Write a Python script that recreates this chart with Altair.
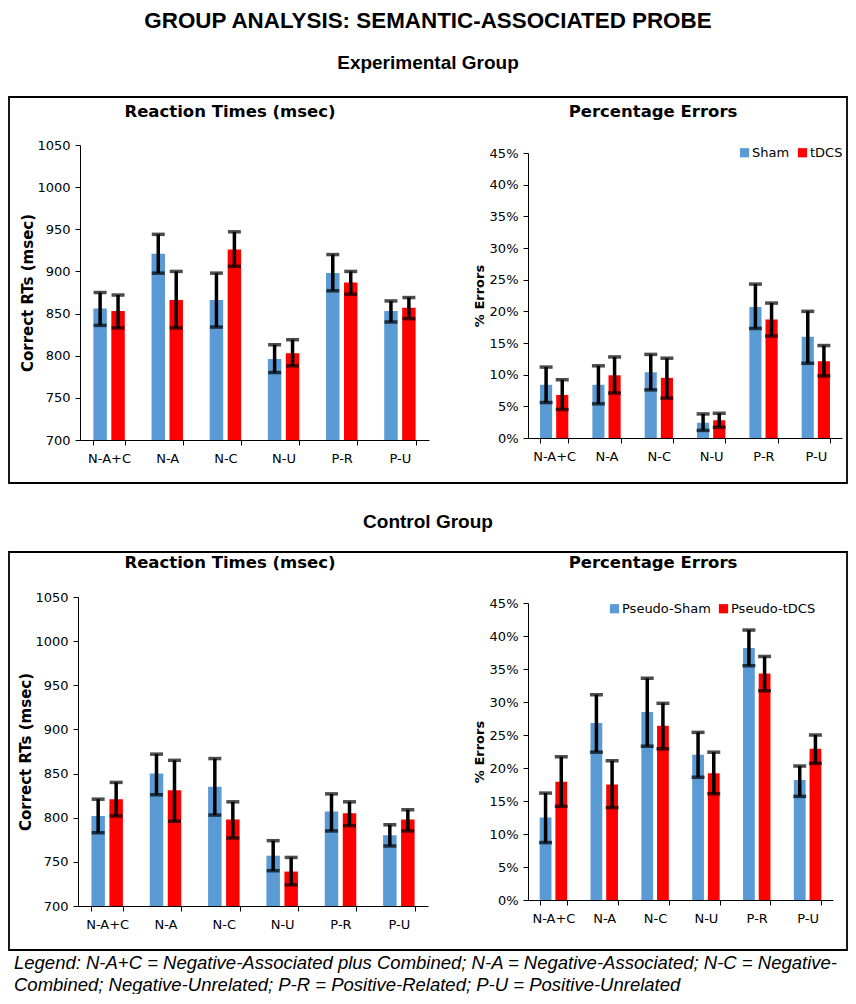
import altair as alt
import pandas as pd

categories = ["N-A+C", "N-A", "N-C", "N-U", "P-R", "P-U"]
exp_conditions = ["Sham", "tDCS"]
ctl_conditions = ["Pseudo-Sham", "Pseudo-tDCS"]

# Experimental group - reaction times (msec)
exp_rt_sham = [856, 921, 866, 796, 898, 853]
exp_rt_sham_hi = [875, 944, 898, 813, 920, 865]
exp_rt_sham_lo = [836, 898, 834, 780, 877, 840]
exp_rt_tdcs = [853, 866, 926, 803, 887, 857]
exp_rt_tdcs_hi = [872, 900, 947, 819, 900, 869]
exp_rt_tdcs_lo = [833, 833, 906, 788, 873, 844]

# Experimental group - percentage errors
exp_err_sham = [8.4, 8.4, 10.4, 2.4, 20.7, 16.0]
exp_err_sham_hi = [11.2, 11.4, 13.2, 3.8, 24.3, 20.0]
exp_err_sham_lo = [5.6, 5.4, 7.6, 1.2, 17.3, 11.8]
exp_err_tdcs = [6.8, 9.9, 9.5, 2.8, 18.7, 12.1]
exp_err_tdcs_hi = [9.2, 12.8, 12.6, 3.9, 21.3, 14.6]
exp_err_tdcs_lo = [4.5, 7.1, 6.3, 1.7, 16.1, 9.8]

# Control group - reaction times (msec)
ctl_rt_sham = [802, 850, 835, 757, 807, 780]
ctl_rt_sham_hi = [821, 872, 867, 774, 827, 792]
ctl_rt_sham_lo = [783, 826, 803, 740, 785, 768]
ctl_rt_tdcs = [821, 831, 798, 739, 805, 798]
ctl_rt_tdcs_hi = [840, 865, 818, 755, 818, 809]
ctl_rt_tdcs_lo = [802, 796, 777, 724, 791, 785]

# Control group - percentage errors
ctl_err_sham = [12.5, 26.8, 28.5, 22.0, 38.2, 18.2]
ctl_err_sham_hi = [16.2, 31.1, 33.6, 25.4, 40.9, 20.3]
ctl_err_sham_lo = [8.7, 22.4, 23.3, 18.6, 35.5, 15.7]
ctl_err_tdcs = [17.9, 17.5, 26.4, 19.2, 34.3, 22.9]
ctl_err_tdcs_hi = [21.7, 21.1, 29.8, 22.4, 36.9, 25.0]
ctl_err_tdcs_lo = [14.2, 14.0, 22.9, 16.1, 31.7, 20.7]

rt_ticks = [700, 750, 800, 850, 900, 950, 1000, 1050]
pct_ticks = [0, 5, 10, 15, 20, 25, 30, 35, 40, 45]

main_title = "GROUP ANALYSIS: SEMANTIC-ASSOCIATED PROBE"
group_titles = ["Experimental Group", "Control Group"]
panel_titles = ["Reaction Times (msec)", "Percentage Errors"]
footer_lines = [
    "Legend: N-A+C = Negative-Associated plus Combined; N-A = Negative-Associated; N-C = Negative-",
    "Combined; Negative-Unrelated; P-R = Positive-Related; P-U = Positive-Unrelated",
]

BLUE = "#5B9BD5"
RED = "#FF0000"
W, H = 840, 986
AXIS_FONT = "DejaVu Sans"


def make_df(conds, a, a_hi, a_lo, b, b_hi, b_lo):
    rows = []
    for i, c in enumerate(categories):
        rows.append({"cat": c, "cond": conds[0], "val": a[i], "hi": a_hi[i], "lo": a_lo[i]})
        rows.append({"cat": c, "cond": conds[1], "val": b[i], "hi": b_hi[i], "lo": b_lo[i]})
    return pd.DataFrame(rows)


def panel(df, conds, x_range, y_range, y_domain, y_ticks, y_title, y_off, x_off, pct, legend):
    x = alt.X(
        "cat:N", sort=categories, title=None,
        scale=alt.Scale(domain=categories, range=x_range, paddingInner=0.46, paddingOuter=0.23),
        axis=alt.Axis(orient="bottom", offset=x_off, tickBand="extent", labelAngle=0,
                      labelPadding=7, tickSize=5, labelFontSize=13, labelFont=AXIS_FONT,
                      domainColor="black", tickColor="black", labelColor="black", grid=False),
    )
    xo = alt.XOffset("cond:N", sort=conds,
                     scale=alt.Scale(domain=conds, paddingInner=0.25, paddingOuter=0))
    yaxis = alt.Axis(
        orient="left", offset=y_off, values=y_ticks, grid=False, tickSize=5, labelPadding=5,
        labelFontSize=13, labelFont=AXIS_FONT, labelColor="black", domainColor="black",
        tickColor="black", titleFont=AXIS_FONT, titleFontSize=13 if pct else 15,
        titleFontWeight="bold", titleColor="black", titlePadding=3 if pct else 1,
        labelExpr="datum.value + '%'" if pct else "format(datum.value, 'd')",
    )
    yscale = alt.Scale(domain=y_domain, range=y_range, nice=False, zero=False)

    def yenc(field):
        return alt.Y(field, title=y_title, scale=yscale, axis=yaxis)

    color = alt.Color("cond:N", sort=conds,
                      scale=alt.Scale(domain=conds, range=[BLUE, RED]), legend=legend)
    base = alt.Chart(df)
    bars = base.mark_bar().encode(x=x, xOffset=xo, y=yenc("val:Q"),
                                  y2=alt.datum(y_domain[0]), color=color)
    rules = base.mark_rule(color="black", strokeWidth=3.5).encode(
        x=x, xOffset=xo, y=yenc("lo:Q"), y2="hi:Q")
    cap_hi = base.mark_tick(color="black", thickness=3.5, size=13).encode(
        x=x, xOffset=xo, y=yenc("hi:Q"))
    cap_lo = base.mark_tick(color="black", thickness=3.5, size=13).encode(
        x=x, xOffset=xo, y=yenc("lo:Q"))
    return alt.layer(bars, rules, cap_hi, cap_lo)


def legend_at(lx, ly):
    return alt.Legend(orient="none", legendX=lx, legendY=ly, direction="horizontal", title=None,
                      symbolType="square", symbolSize=85, symbolStrokeWidth=0,
                      labelFontSize=13, labelFont=AXIS_FONT, labelColor="black",
                      columnPadding=6, labelOffset=1, padding=0)


df_exp_rt = make_df(exp_conditions, exp_rt_sham, exp_rt_sham_hi, exp_rt_sham_lo,
                    exp_rt_tdcs, exp_rt_tdcs_hi, exp_rt_tdcs_lo)
df_exp_err = make_df(exp_conditions, exp_err_sham, exp_err_sham_hi, exp_err_sham_lo,
                     exp_err_tdcs, exp_err_tdcs_hi, exp_err_tdcs_lo)
df_ctl_rt = make_df(ctl_conditions, ctl_rt_sham, ctl_rt_sham_hi, ctl_rt_sham_lo,
                    ctl_rt_tdcs, ctl_rt_tdcs_hi, ctl_rt_tdcs_lo)
df_ctl_err = make_df(ctl_conditions, ctl_err_sham, ctl_err_sham_hi, ctl_err_sham_lo,
                     ctl_err_tdcs, ctl_err_tdcs_hi, ctl_err_tdcs_lo)

p1 = panel(df_exp_rt, exp_conditions, [72, 421], [432, 137], [700, 1050], rt_ticks,
           "Correct RTs (msec)", -72, 432 - H, False, None)
p2 = panel(df_exp_err, exp_conditions, [520, 834], [430, 145], [0, 45], pct_ticks,
           "% Errors", -520, 430 - H, True, legend_at(730, 138))
p3 = panel(df_ctl_rt, ctl_conditions, [70, 420], [898, 589], [700, 1050], rt_ticks,
           "Correct RTs (msec)", -70, 898 - H, False, None)
p4 = panel(df_ctl_err, ctl_conditions, [520, 825], [892, 595], [0, 45], pct_ticks,
           "% Errors", -520, 892 - H, True, legend_at(600, 594))

one = pd.DataFrame({"a": [0]})


def frame(y0, y1):
    return alt.Chart(one).mark_rect(fillOpacity=0, stroke="black", strokeWidth=1.8).encode(
        x=alt.value(1), x2=alt.value(W - 1), y=alt.value(y0), y2=alt.value(y1))


def label(text, x, y, size, font="Liberation Sans", weight="bold", align="center", style="normal"):
    return alt.Chart(pd.DataFrame({"t": [text]})).mark_text(
        font=font, fontSize=size, fontWeight=weight, align=align, baseline="middle",
        fontStyle=style, color="black").encode(x=alt.value(x), y=alt.value(y), text="t:N")


deco = [
    frame(89, 475),
    frame(544, 942),
    label(main_title, 420, 13, 22.4),
    label(group_titles[0], 420, 55, 19),
    label(group_titles[1], 420, 514, 19),
    label(panel_titles[0], 222, 104, 16.5, font=AXIS_FONT),
    label(panel_titles[1], 645, 104, 16.5, font=AXIS_FONT),
    label(panel_titles[0], 222, 555, 16.5, font=AXIS_FONT),
    label(panel_titles[1], 645, 555, 16.5, font=AXIS_FONT),
    label(footer_lines[0], 6, 955, 18.5, weight="normal", align="left", style="italic"),
    label(footer_lines[1], 6, 977, 18.5, weight="normal", align="left", style="italic"),
]

chart = alt.layer(p1, p2, p3, p4, *deco).resolve_scale(
    x="independent", y="independent", color="independent", xOffset="independent"
).resolve_axis(x="independent", y="independent").resolve_legend(color="independent").properties(
    width=W, height=H, autosize=alt.AutoSizeParams(type="none"), padding=0
).configure_view(stroke=None)

chart.save("out.html", embed_options={"renderer": "svg", "actions": False})
